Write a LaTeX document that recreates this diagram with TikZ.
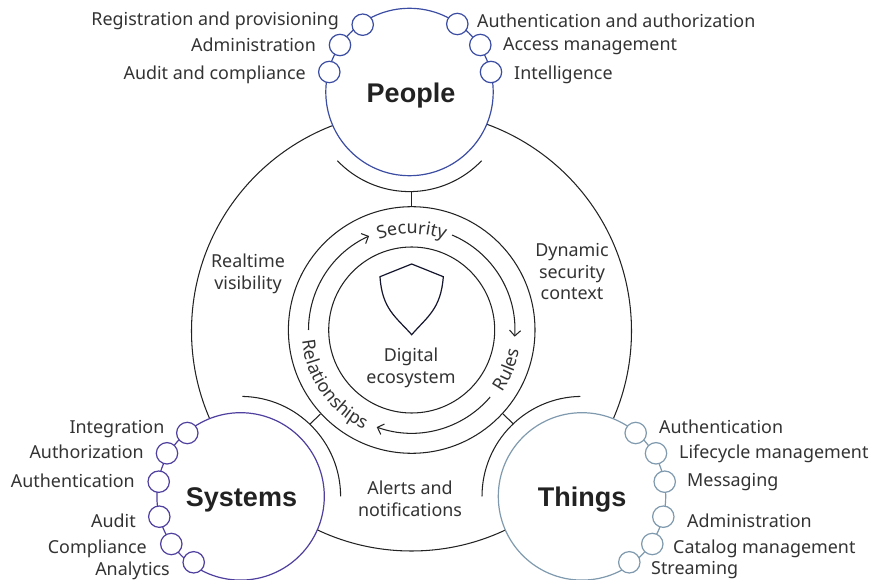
\documentclass[tikz,border=0pt]{standalone}
\usepackage{fontspec}
\setmainfont{Noto Sans}
\newfontfamily\headfont{Liberation Sans}
\usetikzlibrary{arrows.meta,decorations.text}
\definecolor{pblue}{HTML}{3B4CA3}
\definecolor{spurple}{HTML}{4F3F9E}
\definecolor{tgrey}{HTML}{7F9AAE}
\definecolor{ink}{HTML}{222222}
\definecolor{txt}{HTML}{333333}
\definecolor{navy}{HTML}{14162E}
\tikzset{
 lbl/.style={text=txt,font=\fontsize{17.9}{21.7}\selectfont,inner sep=0pt,align=center},
 lblL/.style={lbl,anchor=east},
 lblR/.style={lbl,anchor=west},
 head/.style={text=ink,font=\fontsize{27}{30}\selectfont\headfont\bfseries,inner sep=0pt},
 wire/.style={draw=ink,line width=1.05pt},
 hub/.style={circle,minimum size=167.4pt,inner sep=0pt,line width=1.2pt,fill=white,draw=#1},
 bead/.style={circle,minimum size=21.4pt,inner sep=0pt,line width=1.2pt,fill=white,draw=#1},
 arrowarc/.style={wire,-{Straight Barb[length=5.5pt,width=11pt,line width=1.05pt]}},
 curved/.style={decorate,decoration={text along path,text align=center,text color=txt,text={|\fontsize{17.9}{21}\selectfont|#1}}}
}
\begin{document}
\begin{tikzpicture}[x=1pt,y=1pt]
\useasboundingbox (0,0) rectangle (887,579);
\coordinate (B) at (411.5,248);
\coordinate (C) at (411.7,249);
\coordinate (PC) at (409.5,487);
\coordinate (SC) at (240.6,82.6);
\coordinate (TC) at (582,82.6);
% big ring
\node[circle,minimum size=440pt,inner sep=0pt,wire] (big) at (B) {};
% centre rings
\node[circle,minimum size=246.6pt,inner sep=0pt,wire,fill=white] (outerring) at (C) {};
\node[circle,minimum size=166pt,inner sep=0pt,wire] (innerring) at (C) {};
% hubs
\node[hub=pblue] (people) at (PC) {};
\node[hub=spurple] (systems) at (SC) {};
\node[hub=tgrey] (things) at (TC) {};
\node[head] at (411,483.5) {People};
\node[head] at (241.5,79.5) {Systems};
\node[head] at (582,79.5) {Things};
% brackets
\draw[wire] ([shift={(-136.4:99.6pt)}]PC) coordinate (pa) arc[start angle=-136.4,end angle=-43.6,radius=99.6pt] coordinate (pb);
\draw[wire] ([shift={(89:100pt)}]SC) coordinate (sa) arc[start angle=89,end angle=0,radius=100pt] coordinate (sb);
\draw[wire] ([shift={(91:100pt)}]TC) coordinate (ta) arc[start angle=91,end angle=180,radius=100pt] coordinate (tb);
% ties
\coordinate (p1) at (411.5,387.5);
\coordinate (p2) at (411.5,372.3);
\coordinate (s1) at (310,155);
\coordinate (s2) at (320.5,165);
\coordinate (t1) at (503,165);
\coordinate (t2) at (513.5,155);
\draw[wire] (p1)--(p2);
\draw[wire] (s1)--(s2);
\draw[wire] (t1)--(t2);
% beads
\foreach \n/\x/\y in {a/362.7/554.3,b/340/534,c/329.3/507,d/457.3/555,e/480.3/534,f/491/507}
  \node[bead=pblue] (p\n) at (\x,\y) {};
\foreach \n/\x/\y in {a/187.3/146,b/167/125.7,c/158.7/97.3,d/159.3/62.3,e/171.3/35,f/193.7/16.7}
  \node[bead=spurple] (s\n) at (\x,\y) {};
\foreach \n/\x/\y in {a/635.7/146,b/656/125.7,c/664.7/97.3,d/663.3/62.3,e/652.3/35,f/629.3/16.7}
  \node[bead=tgrey] (t\n) at (\x,\y) {};
% bead labels
\node[lblL] at (339,558) {Registration and provisioning};
\node[lblL] at (316,534) {Administration};
\node[lblL] at (306,504.5) {Audit and compliance};
\node[lblR] at (477,558) {Authentication and authorization};
\node[lblR] at (503,533) {Access management};
\node[lblR] at (514,504.5) {Intelligence};
\node[lblL] at (164.5,150) {Integration};
\node[lblL] at (144,127) {Authorization};
\node[lblL] at (135,98.5) {Authentication};
\node[lblL] at (136,58.5) {Audit};
\node[lblL] at (147,30.5) {Compliance};
\node[lblL] at (170,8.5) {Analytics};
\node[lblR] at (659,152) {Authentication};
\node[lblR] at (679,125.5) {Lifecycle management};
\node[lblR] at (687,97) {Messaging};
\node[lblR] at (687,58.5) {Administration};
\node[lblR] at (673,30.5) {Catalog management};
\node[lblR] at (651,9) {Streaming};
% middle labels
\node[lbl] at (248,305) {Realtime\\visibility};
\node[lbl] at (572,307.5) {Dynamic\\security\\context};
\node[lbl] at (410,80) {Alerts and\\notifications};
\node[lbl] at (411,211) {Digital\\ecosystem};
% shield
\draw[draw=navy,line width=1.2pt,line join=miter]
  (411.7,315) -- (443.3,302.3) .. controls (441,270) and (427,262) .. (411.7,244.3)
  .. controls (396,262) and (382,270) .. (380,302.3) -- cycle;
% arrows
\draw[arrowarc] ([shift={(180:103.2pt)}]C) arc[start angle=180,end angle=114.4,radius=103.2pt];
\draw[arrowarc] ([shift={(67:103.2pt)}]C) arc[start angle=67,end angle=-3.7,radius=103.2pt];
\draw[arrowarc] ([shift={(-40.5:103.2pt)}]C) arc[start angle=-40.5,end angle=-109.8,radius=103.2pt];
% curved labels
\path[curved=Security] ([shift={(130:96pt)}]C) arc[start angle=130,end angle=50,radius=96pt];
\path[curved=Rules] ([shift={(-60:110pt)}]C) arc[start angle=-60,end angle=15,radius=110pt];
\path[curved=Relationships] ([shift={(150:110pt)}]C) arc[start angle=150,end angle=280,radius=110pt];
\end{tikzpicture}
\end{document}
